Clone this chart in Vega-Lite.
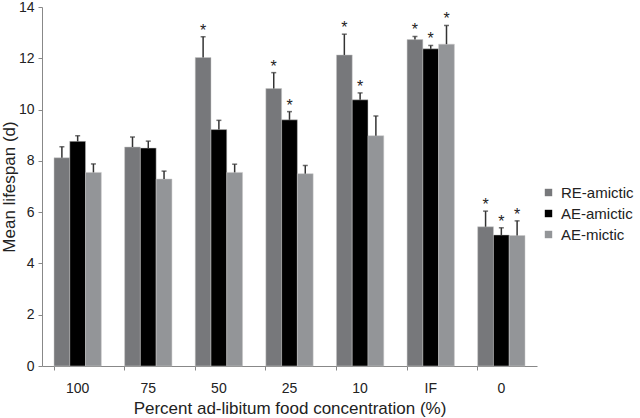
{
  "$schema": "https://vega.github.io/schema/vega-lite/v6.json",
  "autosize": {"type": "none"},
  "padding": {"left": 42, "top": 7, "right": 103, "bottom": 52},
  "width": 495,
  "height": 359,
  "background": "white",
  "config": {
    "font": "Liberation Sans",
    "view": {"stroke": null},
    "axis": {"grid": false, "domainColor": "#888", "tickColor": "#888", "labelColor": "#222", "titleColor": "#222", "labelFontSize": 14, "titleFontSize": 17, "titleFontWeight": "normal"}
  },
  "data": {
    "values": [
      {"conc": "100", "group": "RE-amictic", "mean": 8.12, "upper": 8.55, "star": ""},
      {"conc": "100", "group": "AE-amictic", "mean": 8.76, "upper": 8.98, "star": ""},
      {"conc": "100", "group": "AE-mictic", "mean": 7.55, "upper": 7.88, "star": ""},
      {"conc": "75", "group": "RE-amictic", "mean": 8.54, "upper": 8.93, "star": ""},
      {"conc": "75", "group": "AE-amictic", "mean": 8.5, "upper": 8.77, "star": ""},
      {"conc": "75", "group": "AE-mictic", "mean": 7.29, "upper": 7.6, "star": ""},
      {"conc": "50", "group": "RE-amictic", "mean": 12.03, "upper": 12.84, "star": "*"},
      {"conc": "50", "group": "AE-amictic", "mean": 9.22, "upper": 9.58, "star": ""},
      {"conc": "50", "group": "AE-mictic", "mean": 7.55, "upper": 7.87, "star": ""},
      {"conc": "25", "group": "RE-amictic", "mean": 10.82, "upper": 11.44, "star": "*"},
      {"conc": "25", "group": "AE-amictic", "mean": 9.6, "upper": 9.92, "star": "*"},
      {"conc": "25", "group": "AE-mictic", "mean": 7.5, "upper": 7.82, "star": ""},
      {"conc": "10", "group": "RE-amictic", "mean": 12.13, "upper": 12.94, "star": "*"},
      {"conc": "10", "group": "AE-amictic", "mean": 10.38, "upper": 10.65, "star": "*"},
      {"conc": "10", "group": "AE-mictic", "mean": 8.98, "upper": 9.75, "star": ""},
      {"conc": "IF", "group": "RE-amictic", "mean": 12.73, "upper": 12.85, "star": "*"},
      {"conc": "IF", "group": "AE-amictic", "mean": 12.37, "upper": 12.5, "star": "*"},
      {"conc": "IF", "group": "AE-mictic", "mean": 12.55, "upper": 13.28, "star": "*"},
      {"conc": "0", "group": "RE-amictic", "mean": 5.43, "upper": 6.04, "star": "*"},
      {"conc": "0", "group": "AE-amictic", "mean": 5.11, "upper": 5.39, "star": "*"},
      {"conc": "0", "group": "AE-mictic", "mean": 5.09, "upper": 5.66, "star": "*"}
    ]
  },
  "encoding": {
    "x": {
      "field": "conc", "type": "nominal",
      "sort": ["100", "75", "50", "25", "10", "IF", "0"],
      "scale": {"paddingInner": 0.33, "paddingOuter": 0.17},
      "axis": {"title": "Percent ad-libitum food concentration (%)", "labelAngle": 0, "bandPosition": 0, "labelBound": false, "tickSize": 4, "labelPadding": 11, "titlePadding": 5}
    },
    "xOffset": {"field": "group", "type": "nominal", "sort": ["RE-amictic", "AE-amictic", "AE-mictic"]}
  },
  "layer": [
    {
      "mark": {"type": "bar", "stroke": "#c8c8c8", "strokeWidth": 0.5},
      "encoding": {
        "y": {
          "field": "mean", "type": "quantitative",
          "scale": {"domain": [0, 14]},
          "axis": {"title": "Mean lifespan (d)", "values": [0, 2, 4, 6, 8, 10, 12, 14], "tickSize": 4, "labelPadding": 4, "titleX": -33, "titleBaseline": "middle"}
        },
        "color": {
          "field": "group", "type": "nominal",
          "sort": ["RE-amictic", "AE-amictic", "AE-mictic"],
          "scale": {"domain": ["RE-amictic", "AE-amictic", "AE-mictic"], "range": ["#77787b", "#000000", "#939598"]},
          "legend": {"title": null, "orient": "none", "legendX": 499, "legendY": 178, "symbolType": "square", "symbolSize": 55, "labelFontSize": 15, "labelOffset": 5, "labelColor": "#222", "rowPadding": 5, "symbolStrokeWidth": 0}
        }
      }
    },
    {
      "mark": {"type": "rule", "color": "#333", "strokeWidth": 1.5},
      "encoding": {"y": {"field": "mean", "type": "quantitative"}, "y2": {"field": "upper"}}
    },
    {
      "mark": {"type": "tick", "color": "#333", "thickness": 1.5, "size": 5, "orient": "horizontal"},
      "encoding": {"y": {"field": "upper", "type": "quantitative"}}
    },
    {
      "mark": {"type": "text", "fontSize": 16, "dy": 2, "baseline": "bottom", "color": "#222"},
      "encoding": {"y": {"field": "upper", "type": "quantitative"}, "text": {"field": "star"}}
    }
  ]
}
